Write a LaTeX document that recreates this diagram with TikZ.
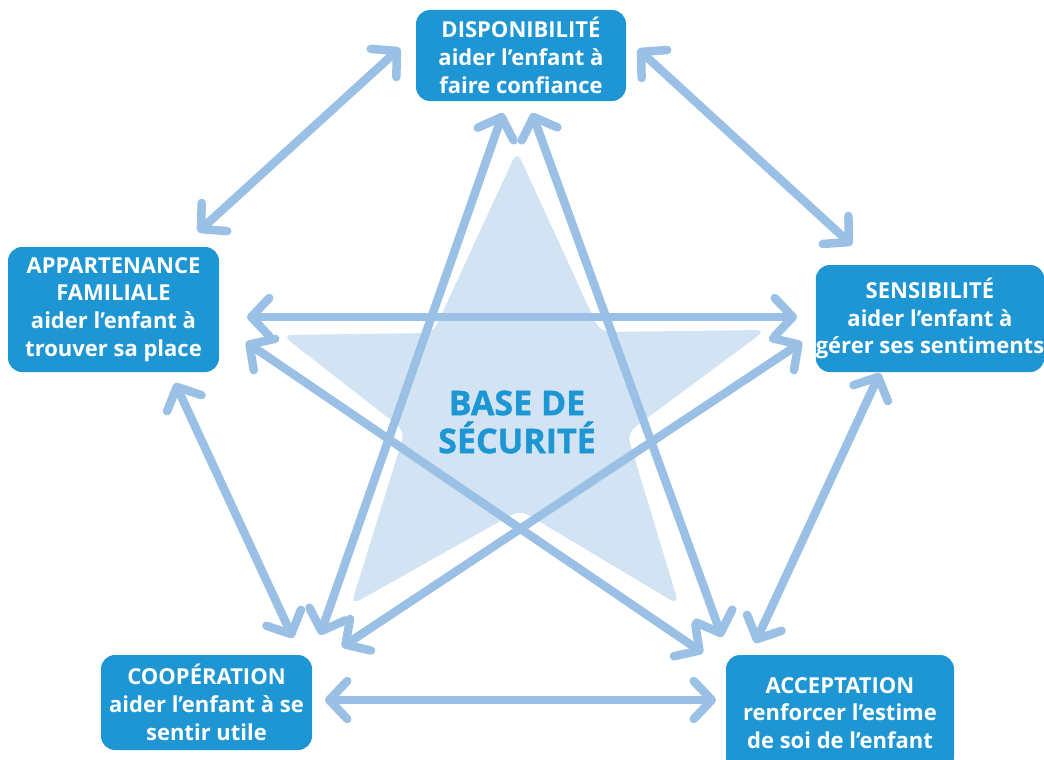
\documentclass[tikz,border=0pt]{standalone}
\usepackage{fontspec}
\setmainfont{Open Sans}
\usetikzlibrary{arrows.meta}
\definecolor{boxc}{HTML}{1E96D3}
\definecolor{arrc}{HTML}{9BC0E5}
\definecolor{starc}{HTML}{D2E3F3}
\begin{document}
\begin{tikzpicture}[x=1pt,y=-1pt,
  box/.style={fill=boxc, rounded corners=14pt, text=white, font=\bfseries\fontsize{22}{27.7}\selectfont, align=center, inner sep=0pt},
  barb/.tip={Straight Barb[length=18pt 0,width=38pt 0,round]},
  link/.style={draw=arrc, line width=8.5pt, line cap=round, barb-barb}]
\useasboundingbox (0,0) rectangle (1044,760);
% star
\fill[starc, rounded corners=10pt] (517,151) -- (600,332) -- (766,330) -- (627,433) -- (679,605) -- (520,510) -- (351,605) -- (405,431) -- (282,335) -- (433,333) -- cycle;
% arrow ends
\coordinate (dA) at (400,48);   \coordinate (aD) at (198,232);
\coordinate (dS) at (638,49);   \coordinate (sD) at (852,245);
\coordinate (aC) at (175,383);  \coordinate (cA) at (293,638);
\coordinate (sX) at (880,373);  \coordinate (xS) at (755,643);
\coordinate (cX) at (325,700);  \coordinate (xC) at (716,700);
\coordinate (aS) at (247,317);  \coordinate (sA) at (797,317);
\coordinate (dC) at (503,113);  \coordinate (cD) at (320,635);
\coordinate (dX) at (532,113);  \coordinate (xD) at (722,637);
\coordinate (aX) at (246,342);  \coordinate (xA) at (703,653);
\coordinate (sC) at (802,342);  \coordinate (cS) at (342,647);
\draw[link] (dA) -- (aD);
\draw[link] (dS) -- (sD);
\draw[link] (aC) -- (cA);
\draw[link] (sX) -- (xS);
\draw[link] (cX) -- (xC);
\draw[link] (aS) -- (sA);
\draw[link] (dC) -- (cD);
\draw[link] (dX) -- (xD);
\draw[link] (aX) -- (xA);
\draw[link] (sC) -- (cS);
% boxes
\node[box, minimum width=210pt, minimum height=91pt] (disp) at (521,55.5) {DISPONIBILITÉ\\aider l’enfant à\\faire confiance};
\node[box, minimum width=211pt, minimum height=125pt] (app) at (113.5,309.5) {APPARTENANCE\\FAMILIALE\\aider l’enfant à\\trouver sa place};
\node[box, minimum width=224pt, minimum height=107pt] (sens) at (930,318.5) {SENSIBILITÉ\\aider l’enfant à\\gérer ses sentiments};
\node[box, minimum width=211pt, minimum height=95pt] (coop) at (206.5,702.5) {COOPÉRATION\\aider l’enfant à se\\sentir utile};
\node[box, minimum width=228pt, minimum height=116pt] (acc) at (840,713) {ACCEPTATION\\renforcer l’estime\\de soi de l’enfant};
\node[text=boxc, font=\bfseries\fontsize{34}{38}\selectfont\addfontfeature{FakeBold=1.2}, align=center, inner sep=0pt] (base) at (517,422) {BASE DE\\SÉCURITÉ};
\end{tikzpicture}
\end{document}
